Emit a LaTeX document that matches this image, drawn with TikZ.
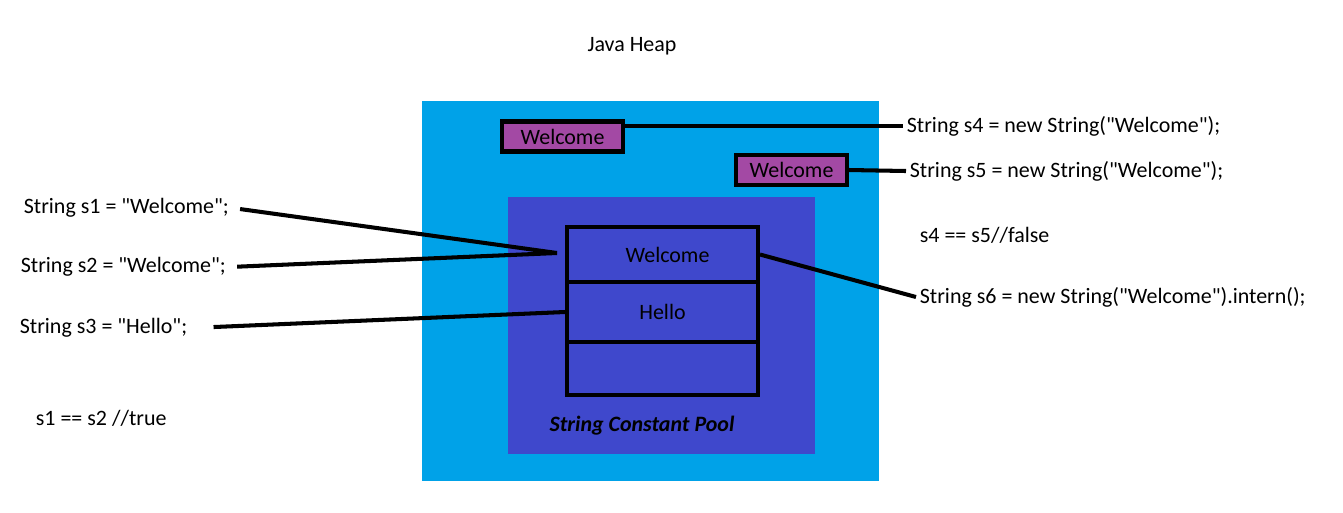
\documentclass[tikz,border=0pt]{standalone}
\usepackage{fontspec}
\setmainfont{Carlito}[Ligatures=TeXOff]
\usepackage{tikz}
\usetikzlibrary{positioning,calc}
\definecolor{heapblue}{RGB}{0,162,232}
\definecolor{poolblue}{RGB}{63,72,204}
\definecolor{objpurple}{RGB}{163,73,164}

\begin{document}
\begin{tikzpicture}[
  x=0.02cm, y=-0.02cm,
  every node/.style={font=\fontsize{12.5}{15}\selectfont, inner sep=2pt},
  heapbox/.style={fill=heapblue, minimum width=9.14cm, minimum height=7.6cm, inner sep=0pt},
  poolbox/.style={fill=poolblue, minimum width=6.14cm, minimum height=5.14cm, inner sep=0pt},
  objbox/.style={draw=black, line width=2.3pt, fill=objpurple, minimum height=0.6cm, inner sep=0pt},
  cell/.style={draw=black, line width=2.3pt, minimum width=3.82cm, inner sep=0pt},
  link/.style={line width=2.3pt},
  stmt/.style={anchor=west}
]
  \useasboundingbox[fill=white] (0,0) rectangle (1343,512);
  \node (title) at (632,46) {Java Heap};
  \node[heapbox] (heap) at (650.5,291) {};
  \node[poolbox] (pool) at (661.5,325.5) {};
  \node[font=\fontsize{12.5}{15}\selectfont\bfseries\itshape] (poolname) at (642,426) {String Constant Pool};
  \node[cell, minimum height=1.1cm] (cellA) at (662.5,254.5) {\hspace{0.2cm}Welcome};
  \node[cell, minimum height=1.2cm] (cellB) at (662.5,312) {\raisebox{-0.08cm}{Hello}\hspace{0.5cm}};
  \node[cell, minimum height=1.06cm] (cellC) at (662.5,368.5) {};
  \node[objbox, minimum width=2.42cm] (obj4) at (562.5,136.5) {\raisebox{-0.05cm}{Welcome}\hspace{0.25cm}};
  \node[objbox, minimum width=2.22cm] (obj5) at (791.5,170) {\raisebox{-0.08cm}{Welcome}};

  \node[stmt] (s1) at (20,208) {String s1 = "Welcome";};
  \node[stmt] (s2) at (17,267) {String s2 = "Welcome";};
  \node[stmt] (s3) at (16,328) {String s3 = "Hello";};
  \node[stmt] (eq12) at (32,418) {s1 == s2 //true};
  \node[stmt] (s4) at (903,126) {String s4 = new String("Welcome");};
  \node[stmt] (s5) at (906,171) {String s5 = new String("Welcome");};
  \node[stmt] (eq45) at (916,235) {s4 == s5//false};
  \node[stmt] (s6) at (916,297) {String s6 = new String("Welcome").intern();};

  \coordinate (join) at (557,253);
  \draw[link, shorten <=0.15cm] (s1.east) -- (join);
  \draw[link, shorten <=0.15cm] (s2.east) -- (join);
  \draw[link, shorten <=0.45cm] (s3.east) -- (cellB.west);
  \draw[link] (obj4.east |- s4.west) -- (s4.west);
  \draw[link] (obj5.east) -- (s5.west);
  \draw[link] (cellA.east) -- (s6.west);
\end{tikzpicture}
\end{document}
